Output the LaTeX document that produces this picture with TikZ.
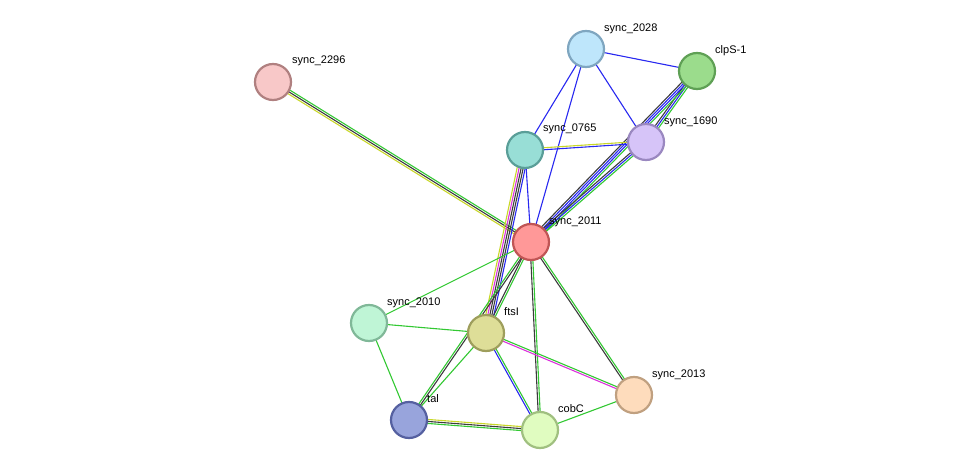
\documentclass[tikz,border=0pt]{standalone}
\usepackage{fontspec}
\setmainfont{Liberation Sans}
\usetikzlibrary{calc,backgrounds}
\definecolor{lgreen}{RGB}{50,200,50}
\definecolor{lblue}{RGB}{40,40,240}
\definecolor{lblack}{RGB}{60,60,60}
\definecolor{lyellow}{RGB}{200,215,40}
\definecolor{lmag}{RGB}{220,50,220}
% protein fills and rims
\definecolor{f2296}{HTML}{F8C8C8}\definecolor{d2296}{HTML}{B08080}
\definecolor{f2028}{HTML}{BEE6FB}\definecolor{d2028}{HTML}{7FA6C0}
\definecolor{fclps}{HTML}{9BDC8C}\definecolor{dclps}{HTML}{5FA055}
\definecolor{f0765}{HTML}{98DED6}\definecolor{d0765}{HTML}{5A9E98}
\definecolor{f1690}{HTML}{D6C4F8}\definecolor{d1690}{HTML}{9A88C0}
\definecolor{f2011}{HTML}{FF9898}\definecolor{d2011}{HTML}{C05555}
\definecolor{f2010}{HTML}{BFF5D6}\definecolor{d2010}{HTML}{80B898}
\definecolor{fftsi}{HTML}{DEDE98}\definecolor{dftsi}{HTML}{9E9E5C}
\definecolor{f2013}{HTML}{FEDCBC}\definecolor{d2013}{HTML}{C0A080}
\definecolor{ftal}{HTML}{98A4DC}\definecolor{dtal}{HTML}{5560A0}
\definecolor{fcobc}{HTML}{E0FCC0}\definecolor{dcobc}{HTML}{A0C080}
\tikzset{
  prot/.style={circle, minimum size=36pt, inner sep=0pt, line width=2.2pt, fill=f#1, draw=d#1},
  link/.style={line width=1.1pt},
  tag/.style={anchor=base west, font=\fontsize{11}{13}\selectfont, inner sep=0pt}
}
\newcommand{\linkset}[3]{%
  \foreach \col [count=\k] in {#3} {\xdef\nlines{\k}}%
  \foreach \col [count=\k] in {#3} {%
    \pgfmathsetmacro{\off}{(\k-(\nlines+1)/2)*2}%
    \draw[link,\col] ($(#1)!\off pt!90:(#2)$) -- ($(#2)!\off pt!-90:(#1)$);
  }}
\begin{document}
\begin{tikzpicture}[x=1pt,y=-1pt]
  \useasboundingbox (0,0) rectangle (975,476);
  % proteins
  \node[prot=2296] (s2296) at (273,82) {};
  \node[prot=2028] (s2028) at (586,49) {};
  \node[prot=clps] (clps) at (697,71) {};
  \node[prot=0765] (s0765) at (525,150) {};
  \node[prot=1690] (s1690) at (646,142) {};
  \node[prot=2011] (s2011) at (531,242) {};
  \node[prot=2010] (s2010) at (369,323) {};
  \node[prot=ftsi] (ftsi) at (486,333) {};
  \node[prot=2013] (s2013) at (634,395) {};
  \node[prot=tal] (tal) at (409,420) {};
  \node[prot=cobc] (cobc) at (540,430) {};
  % labels
  \node[tag] at ($(s2296)+(19,-18)$) {sync\_2296};
  \node[tag] at ($(s2028)+(18,-17)$) {sync\_2028};
  \node[tag] at ($(clps)+(18,-17)$) {clpS-1};
  \node[tag] at ($(s0765)+(18,-18)$) {sync\_0765};
  \node[tag] at ($(s1690)+(18,-17)$) {sync\_1690};
  \node[tag] at ($(s2011)+(18,-18)$) {sync\_2011};
  \node[tag] at ($(s2010)+(18,-18)$) {sync\_2010};
  \node[tag] at ($(ftsi)+(18,-18)$) {ftsI};
  \node[tag] at ($(s2013)+(18,-18)$) {sync\_2013};
  \node[tag] at ($(tal)+(18,-18)$) {tal};
  \node[tag] at ($(cobc)+(18,-18)$) {cobC};
  % associations
  \begin{scope}[on background layer]
    \linkset{s2296}{s2011}{lyellow,lblack,lgreen}
    \linkset{s2028}{clps}{lblue}
    \linkset{s2028}{s0765}{lblue}
    \linkset{s2028}{s1690}{lblue}
    \linkset{s2028}{s2011}{lblue}
    \linkset{clps}{s1690}{lblack,lblue,lgreen}
    \linkset{clps}{s2011}{lblack,lblue,lblue,lgreen}
    \linkset{s1690}{s2011}{lblack,lblue,lgreen}
    \linkset{s0765}{s1690}{lblue,lyellow}
    \linkset{s0765}{s2011}{lblue}
    \linkset{s0765}{ftsi}{lyellow,lmag,lblack,lblack,lblue}
    \linkset{s2011}{ftsi}{lblack,lgreen}
    \linkset{s2011}{s2010}{lgreen}
    \linkset{s2011}{tal}{lgreen,lblack}
    \linkset{s2011}{cobc}{lblack,lgreen}
    \linkset{s2011}{s2013}{lblack,lgreen}
    \linkset{s2010}{ftsi}{lgreen}
    \linkset{s2010}{tal}{lgreen}
    \linkset{ftsi}{tal}{lgreen}
    \linkset{ftsi}{cobc}{lblue,lgreen}
    \linkset{ftsi}{s2013}{lmag,lgreen}
    \linkset{tal}{cobc}{lgreen,lblack,lyellow}
    \linkset{cobc}{s2013}{lgreen}
  \end{scope}
\end{tikzpicture}
\end{document}
